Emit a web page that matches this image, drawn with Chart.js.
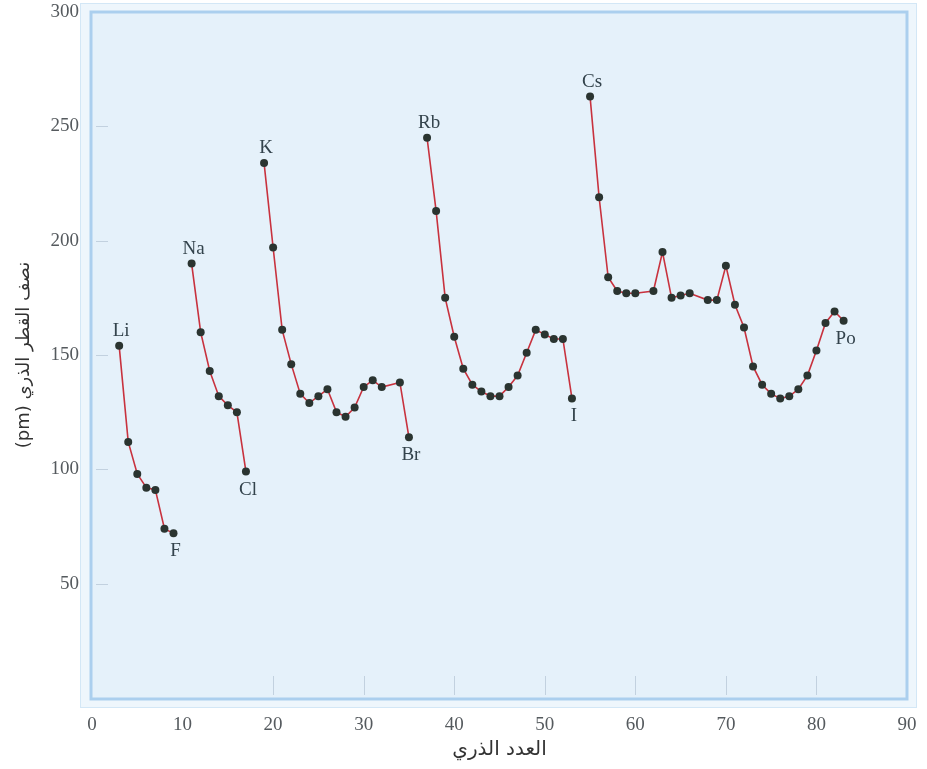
<!DOCTYPE html>
<html>
<head>
<meta charset="utf-8">
<script src="https://cdn.jsdelivr.net/npm/chart.js@4.4.1/dist/chart.umd.min.js"></script>
<style>
  html, body { margin: 0; padding: 0; background: #ffffff; }
</style>
</head>
<body>
<canvas id="radiusChart" width="927" height="769"></canvas>
<script>
// Atomic number (Z) and atomic radius (pm), one pair per period
const z2 = [3, 4, 5, 6, 7, 8, 9];
const r2 = [154, 112, 98, 92, 91, 74, 72];

const z3 = [11, 12, 13, 14, 15, 16, 17];
const r3 = [190, 160, 143, 132, 128, 125, 99];

const z4 = [19, 20, 21, 22, 23, 24, 25, 26, 27, 28, 29, 30, 31, 32, 34, 35];
const r4 = [234, 197, 161, 146, 133, 129, 132, 135, 125, 123, 127, 136, 139, 136, 138, 114];

const z5 = [37, 38, 39, 40, 41, 42, 43, 44, 45, 46, 47, 48, 49, 50, 51, 52, 53];
const r5 = [245, 213, 175, 158, 144, 137, 134, 132, 132, 136, 141, 151, 161, 159, 157, 157, 131];

const z6 = [55, 56, 57, 58, 59, 60, 62, 63, 64, 65, 66, 68, 69, 70,
  71, 72, 73, 74, 75, 76, 77, 78, 79, 80, 81, 82, 83];
const r6 = [263, 219, 184, 178, 177, 177, 178, 195, 175, 176, 177, 174, 174, 189,
  172, 162, 145, 137, 133, 131, 132, 135, 141, 152, 164, 169, 165];

// symbols written at the start and end of each period
const firstSymbols = ["Li", "Na", "K", "Rb", "Cs"];
const lastSymbols = ["F", "Cl", "Br", "I", "Po"];

// axis ticks
const xTicks = [0, 10, 20, 30, 40, 50, 60, 70, 80, 90];
const yTicks = [50, 100, 150, 200, 250, 300];

const xTitle = "العدد الذري";
// "(pm)" first so that it sits at the bottom once the title is turned
const yTitle = "(pm) نصف القطر الذري";

const periods = [[z2, r2], [z3, r3], [z4, r4], [z5, r5], [z6, r6]];

function toPoints(zs, rs) {
  return zs.map(function (z, i) {
    return { x: z, y: rs[i] };
  });
}

const datasets = periods.map(function (p) {
  return {
    data: toPoints(p[0], p[1]),
    showLine: true,
    borderColor: "#c8323e",
    borderWidth: 1.6,
    pointRadius: 4,
    pointBackgroundColor: "#2a3430",
    pointBorderWidth: 0,
    tension: 0,
  };
});

// panel background, faint inner ticks and element labels
const framePlugin = {
  id: "frame",
  beforeDraw: function (chart) {
    const ctx = chart.ctx;
    const a = chart.chartArea;
    ctx.save();
    ctx.fillStyle = "#eef6fc";
    ctx.fillRect(a.left - 12, a.top - 9, a.right - a.left + 22, a.bottom - a.top + 19);
    ctx.strokeStyle = "#d3e7f6";
    ctx.lineWidth = 1;
    ctx.strokeRect(a.left - 11.5, a.top - 8.5, a.right - a.left + 21, a.bottom - a.top + 18);
    ctx.fillStyle = "#e5f1fa";
    ctx.fillRect(a.left, a.top, a.right - a.left, a.bottom - a.top);
    ctx.strokeStyle = "#abcfee";
    ctx.lineWidth = 3;
    ctx.strokeRect(a.left - 1, a.top, a.right - a.left + 1, a.bottom - a.top + 1);
    ctx.restore();
  },
  beforeDatasetsDraw: function (chart) {
    const ctx = chart.ctx;
    const a = chart.chartArea;
    const xs = chart.scales.x;
    const ys = chart.scales.y;
    ctx.save();
    ctx.strokeStyle = "rgba(150,170,190,0.45)";
    ctx.lineWidth = 1;
    yTicks.slice(0, 5).forEach(function (v) {
      const py = Math.round(ys.getPixelForValue(v)) + 0.5;
      ctx.beginPath();
      ctx.moveTo(a.left + 4, py);
      ctx.lineTo(a.left + 16, py);
      ctx.stroke();
    });
    xTicks.slice(2, 9).forEach(function (v) {
      const px = Math.round(xs.getPixelForValue(v)) + 0.5;
      ctx.beginPath();
      ctx.moveTo(px, a.bottom - 3);
      ctx.lineTo(px, a.bottom - 22);
      ctx.stroke();
    });
    ctx.restore();
  },
  afterDatasetsDraw: function (chart) {
    const ctx = chart.ctx;
    const xs = chart.scales.x;
    const ys = chart.scales.y;
    ctx.save();
    ctx.font = "19px 'Liberation Serif'";
    ctx.fillStyle = "#33434c";
    ctx.textAlign = "center";
    ctx.textBaseline = "middle";
    periods.forEach(function (p, i) {
      const zs = p[0];
      const rs = p[1];
      const n = zs.length - 1;
      ctx.fillText(firstSymbols[i], xs.getPixelForValue(zs[0]) + 2, ys.getPixelForValue(rs[0]) - 15);
      ctx.fillText(lastSymbols[i], xs.getPixelForValue(zs[n]) + 2, ys.getPixelForValue(rs[n]) + 18);
    });
    ctx.restore();
  },
};

// fixed axis boxes, and no extra room for overhanging tick labels
function fixBox(size, key) {
  return function (scale) {
    scale[key] = size;
    scale.paddingTop = 0;
    scale.paddingBottom = 0;
    scale.paddingLeft = 0;
    scale.paddingRight = 0;
  };
}

const ctx = document.getElementById("radiusChart").getContext("2d");
new Chart(ctx, {
  type: "scatter",
  data: { datasets: datasets },
  plugins: [framePlugin],
  options: {
    responsive: false,
    animation: false,
    layout: { padding: { top: 12, right: 20, left: 0, bottom: 0 } },
    plugins: {
      legend: { display: false },
      tooltip: { enabled: false },
    },
    scales: {
      x: {
        type: "linear",
        min: 0,
        max: 90,
        afterBuildTicks: function (scale) {
          scale.ticks = xTicks.map(function (v) { return { value: v }; });
        },
        afterFit: fixBox(71, "height"),
        grid: { display: false, drawTicks: false },
        border: { display: false },
        ticks: {
          color: "#555a5e",
          padding: 16,
          font: { family: "'Liberation Serif'", size: 19 },
        },
        title: {
          display: true,
          text: xTitle,
          color: "#333",
          font: { family: "'DejaVu Sans'", size: 20 },
          padding: { top: 0, bottom: 7 },
        },
      },
      y: {
        type: "linear",
        min: 0,
        max: 300,
        afterBuildTicks: function (scale) {
          scale.ticks = yTicks.map(function (v) { return { value: v }; });
        },
        afterFit: fixBox(92, "width"),
        grid: { display: false, drawTicks: false },
        border: { display: false },
        ticks: {
          color: "#555a5e",
          padding: 13,
          font: { family: "'Liberation Serif'", size: 19 },
        },
        title: {
          display: true,
          text: yTitle,
          color: "#333",
          font: { family: "'DejaVu Sans'", size: 18 },
          padding: { top: 14, bottom: 0 },
        },
      },
    },
  },
});
</script>
</body>
</html>
